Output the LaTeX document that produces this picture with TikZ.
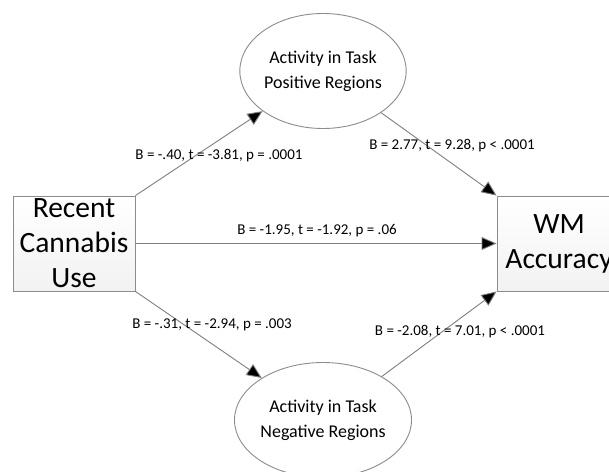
\documentclass[tikz,border=0pt]{standalone}
\usepackage{fontspec}
\setmainfont{Carlito}
\usetikzlibrary{arrows.meta,shapes.geometric}
\definecolor{cLine}{HTML}{7F7F7F}
\definecolor{cEdge}{HTML}{8C8C8C}
\definecolor{cFill}{HTML}{F2F2F2}
\definecolor{cInk}{HTML}{000000}
\tikzset{
  every picture/.style={line width=0.9pt},
  varbox/.style={draw=cEdge, top color=white, bottom color=cFill, align=center,
                 inner sep=0pt, minimum width=122pt, minimum height=95pt,
                 font=\fontsize{29.5}{35}\selectfont, text=cInk},
  medbox/.style={ellipse, draw=cEdge, fill=white, align=center, inner sep=0pt,
                 minimum width=130pt, minimum height=115pt,
                 font=\fontsize{18}{25}\selectfont, text=cInk},
  coef/.style={font=\fontsize{15}{18}\selectfont, text=cInk, inner sep=1pt},
  path/.style={draw=cLine, -{Triangle[length=15pt,width=13pt,fill=black]}},
}
\begin{document}
\begin{tikzpicture}[x=1pt,y=-1pt]
\useasboundingbox (0,0) rectangle (609,471);
\begin{scope}
\clip (0,0) rectangle (609,471);

% ------------------------------------------------------------ variables
\node[varbox] (cru) at (74,243.5) {Recent\\ Cannabis\\ Use};
\node[varbox, minimum width=124pt] (wm) at (559,243.5) {WM\\ Accuracy};

% ------------------------------------------------------------ mediators
\node[medbox] (pos) at (323,71) {Activity in Task\\ Positive Regions};
\node[medbox] (neg) at (323,420) {Activity in Task\\ Negative Regions};

% ------------------------------------------------------------ paths
\draw[path] (cru.north east) -- (pos);
\draw[path] (pos) -- (wm.north west);
\draw[path] (cru) -- (wm);
\draw[path] (cru.south east) -- (neg);
\draw[path] (neg) -- (wm.south west);

% coefficients
\node[coef] (ca) at (219,156) {B = -.40, t = -3.81, p = .0001};
\node[coef] (cb) at (452,146) {B = 2.77, t = 9.28, p < .0001};
\node[coef] (cc) at (317,231) {B = -1.95, t = -1.92, p = .06};
\node[coef] (cd) at (212,325) {B = -.31, t = -2.94, p = .003};
\node[coef] (ce) at (460,332) {B = -2.08, t = 7.01, p < .0001};
\end{scope}
\end{tikzpicture}
\end{document}
